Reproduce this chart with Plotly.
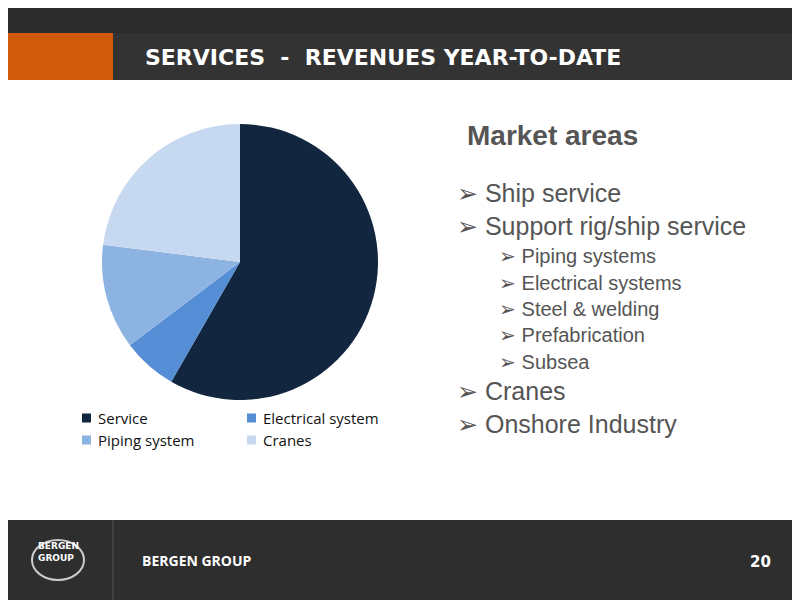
import plotly.graph_objects as go

# pie data
segments = ["Service", "Electrical system", "Piping system", "Cranes"]
shares = [58.3, 6.4, 12.3, 23.0]
seg_colors = ["#12263f", "#558ed5", "#8db3e2", "#c6d9f1"]

# right-hand text
main_items = ["Ship service", "Support rig/ship service"]
sub_items = ["Piping systems", "Electrical systems", "Steel & welding", "Prefabrication", "Subsea"]
tail_items = ["Cranes", "Onshore Industry"]

W, H = 800, 600
OFF = 8  # page body margin


def px_x(x):
    return (x - OFF) / W


def px_y(y):
    return 1 - (y - OFF) / H


fig = go.Figure()
fig.add_trace(go.Pie(
    labels=segments, values=shares, sort=False, direction="clockwise",
    rotation=0, marker=dict(colors=seg_colors, line=dict(color="white", width=0)),
    textinfo="none", hoverinfo="label+percent", showlegend=False,
    domain=dict(x=[px_x(102), px_x(378)], y=[px_y(400), px_y(124)]),
))

shapes = [
    dict(type="rect", xref="paper", yref="paper", x0=-0.02, x1=1.02, y0=px_y(33), y1=1.02,
         fillcolor="#2b2b2b", line_width=0, layer="below"),
    dict(type="rect", xref="paper", yref="paper", x0=-0.02, x1=px_x(113), y0=px_y(80), y1=px_y(33),
         fillcolor="#d0590c", line_width=0, layer="below"),
    dict(type="rect", xref="paper", yref="paper", x0=px_x(113), x1=1.02, y0=px_y(80), y1=px_y(33),
         fillcolor="#333333", line_width=0, layer="below"),
    dict(type="rect", xref="paper", yref="paper", x0=-0.02, x1=1.02, y0=-0.02, y1=px_y(520),
         fillcolor="#2e2e2e", line_width=0, layer="below"),
    dict(type="line", xref="paper", yref="paper", x0=px_x(113), x1=px_x(113), y0=-0.02, y1=px_y(520),
         line=dict(color="#555555", width=1)),
    dict(type="circle", xref="paper", yref="paper", x0=px_x(32), x1=px_x(84), y0=px_y(580), y1=px_y(540),
         line=dict(color="#cccccc", width=2), fillcolor="rgba(0,0,0,0)"),
]

ann = [
    dict(text="<b>SERVICES  -  REVENUES YEAR-TO-DATE</b>", x=px_x(143), y=px_y(57),
         font=dict(size=22, color="white", family="DejaVu Sans")),
    dict(text="<b>Market areas</b>", x=px_x(465), y=px_y(135),
         font=dict(size=28, color="#555555", family="Liberation Sans")),
    dict(text="<b>BERGEN GROUP</b>", x=px_x(140), y=px_y(560),
         font=dict(size=14, color="white", family="Open Sans")),
    dict(text="<b>20</b>", x=px_x(748), y=px_y(562),
         font=dict(size=15, color="white", family="DejaVu Sans")),
    dict(text="<b>BERGEN</b><br><b>GROUP</b>", x=px_x(36), y=px_y(552),
         font=dict(size=9, color="white", family="DejaVu Sans")),
]

# legend built by hand (two columns)
leg_pos = [(82, 418), (247, 418), (82, 440), (247, 440)]
for name, col, (lx, ly) in zip(segments, seg_colors, leg_pos):
    shapes.append(dict(type="rect", xref="paper", yref="paper",
                       x0=px_x(lx), x1=px_x(lx + 9), y0=px_y(ly + 4.5), y1=px_y(ly - 4.5),
                       fillcolor=col, line_width=0))
    ann.append(dict(text=name, x=px_x(lx + 14), y=px_y(ly),
                    font=dict(size=15, color="#111111", family="Open Sans")))

y = 193
for item in main_items:
    ann.append(dict(text="➢ " + item, x=px_x(455), y=px_y(y),
                    font=dict(size=25, color="#555555", family="Liberation Sans")))
    y += 33
y = 256
for item in sub_items:
    ann.append(dict(text="➢ " + item, x=px_x(497), y=px_y(y),
                    font=dict(size=20, color="#555555", family="Liberation Sans")))
    y += 26.5
y = 391
for item in tail_items:
    ann.append(dict(text="➢ " + item, x=px_x(455), y=px_y(y),
                    font=dict(size=25, color="#555555", family="Liberation Sans")))
    y += 33

for a in ann:
    a.update(xref="paper", yref="paper", xanchor="left", yanchor="middle", showarrow=False, align="left")

fig.update_layout(
    width=W, height=H, margin=dict(l=0, r=0, t=0, b=0),
    paper_bgcolor="white", shapes=shapes, annotations=ann,
)

fig.write_html("out.html")
